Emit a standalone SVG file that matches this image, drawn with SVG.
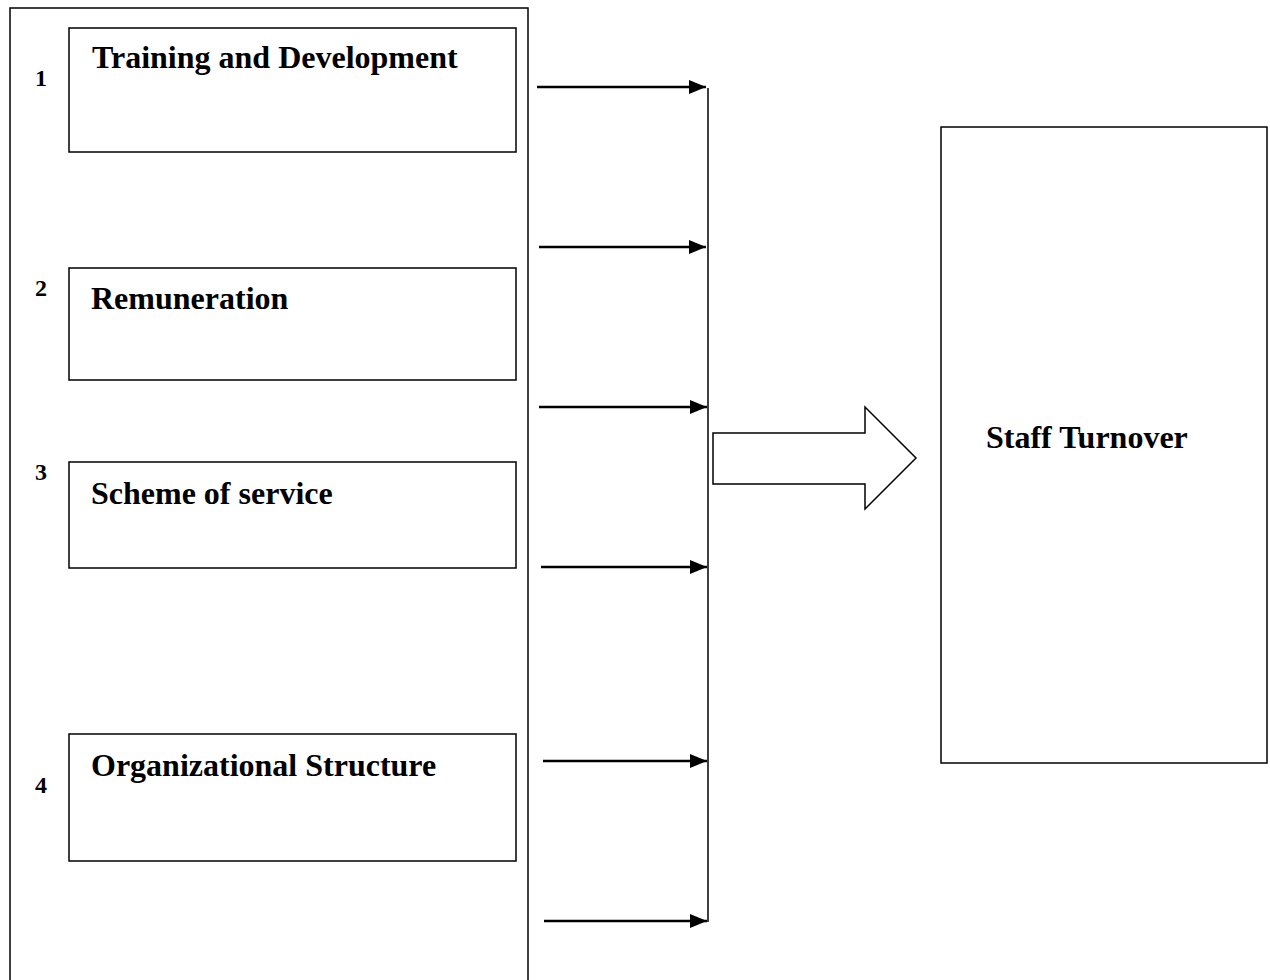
<svg xmlns="http://www.w3.org/2000/svg" width="1270" height="980" viewBox="0 0 1270 980">
<style>
.box{fill:#fff;stroke:#000;stroke-width:1.5}
.lbl{font-family:"Liberation Serif",serif;font-weight:bold;font-size:32px;fill:#000}
.num{font-family:"Liberation Serif",serif;font-weight:bold;font-size:24px;fill:#000}
.con{stroke:#000;stroke-width:2.5;fill:none}
</style>
<defs>
<marker id="ah" markerWidth="17" markerHeight="14" refX="17" refY="7" orient="auto" markerUnits="userSpaceOnUse">
<path d="M0,0 L17,7 L0,14 Z" fill="#000"/>
</marker>
</defs>
<rect width="1270" height="980" fill="#fff"/>
<g id="outer"><rect class="box" x="10" y="8" width="518" height="990"/></g>
<g id="node1"><rect class="box" x="69" y="28" width="447" height="124"/><text class="lbl" x="92" y="68">Training and Development</text><text class="num" x="35" y="86">1</text></g>
<g id="node2"><rect class="box" x="69" y="268" width="447" height="112"/><text class="lbl" x="91" y="309">Remuneration</text><text class="num" x="35" y="296">2</text></g>
<g id="node3"><rect class="box" x="69" y="462" width="447" height="106"/><text class="lbl" x="91" y="504">Scheme of service</text><text class="num" x="35" y="480">3</text></g>
<g id="node4"><rect class="box" x="69" y="734" width="447" height="127"/><text class="lbl" x="91" y="776">Organizational Structure</text><text class="num" x="35" y="793">4</text></g>
<g id="target"><rect class="box" x="941" y="127" width="326" height="636"/><text class="lbl" x="986" y="448">Staff Turnover</text></g>
<g id="connectors">
<line x1="708" y1="88" x2="708" y2="922" stroke="#000" stroke-width="1.5"/>
<line class="con" x1="537" y1="87" x2="706" y2="87" marker-end="url(#ah)"/>
<line class="con" x1="539" y1="247" x2="706" y2="247" marker-end="url(#ah)"/>
<line class="con" x1="539" y1="407" x2="707" y2="407" marker-end="url(#ah)"/>
<line class="con" x1="541" y1="567" x2="707" y2="567" marker-end="url(#ah)"/>
<line class="con" x1="543" y1="761" x2="707" y2="761" marker-end="url(#ah)"/>
<line class="con" x1="544" y1="921" x2="707" y2="921" marker-end="url(#ah)"/>
<path d="M713,433 L865,433 L865,407 L916,458 L865,509 L865,484 L713,484 Z" fill="#fff" stroke="#000" stroke-width="1.5"/>
</g>
</svg>
